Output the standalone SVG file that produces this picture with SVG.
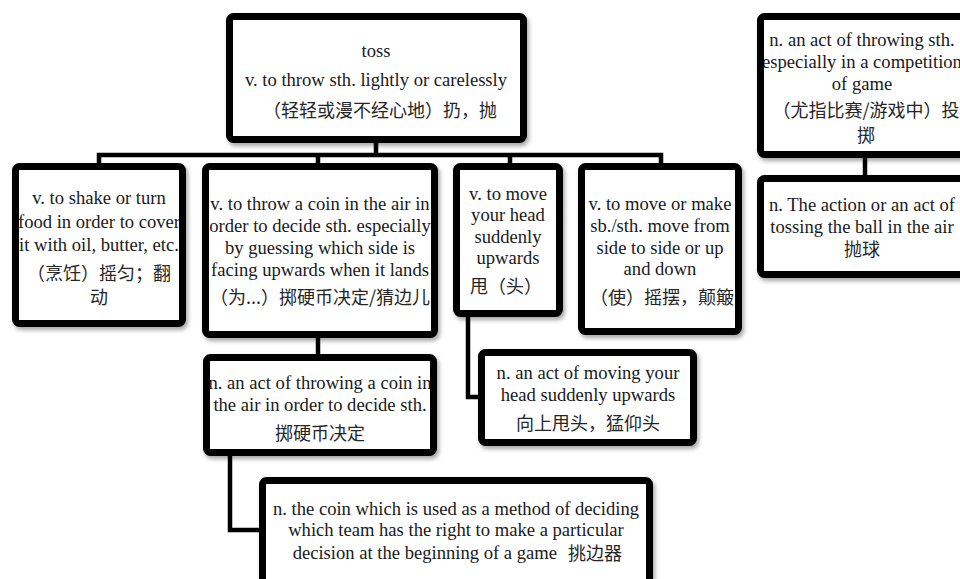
<svg xmlns="http://www.w3.org/2000/svg" width="960" height="579" viewBox="0 0 960 579">
<style>
.box{fill:#fff;stroke:#000;stroke-width:7;filter:url(#sh)}
.t{font-family:"Liberation Serif","Times New Roman",serif;font-size:18.6px;fill:#1a1a1a;text-anchor:middle}
.c{font-family:"Noto Sans CJK SC","Noto Sans",sans-serif;font-size:18px;fill:#262626;text-anchor:middle}
.conn{fill:none;stroke:#000;stroke-width:4.5}
</style>
<defs>
<filter id="sh" x="-10%" y="-10%" width="130%" height="130%">
<feDropShadow dx="2" dy="3" stdDeviation="2" flood-color="#000" flood-opacity="0.35"/>
</filter>
<clipPath id="c1"><rect x="19" y="170" width="160" height="150"/></clipPath>
<clipPath id="c2"><rect x="209" y="170" width="222" height="161"/></clipPath>
<clipPath id="c5"><rect x="210" y="361" width="220" height="88"/></clipPath>
<clipPath id="crt"><rect x="764" y="20" width="202" height="131"/></clipPath>
<clipPath id="c4"><rect x="585" y="170" width="150" height="158"/></clipPath>
</defs>
<g id="connectors">
<path class="conn" d="M376 143 V155"/>
<path class="conn" d="M99 165 V155 H661 V165"/>
<path class="conn" d="M318 155 V165"/>
<path class="conn" d="M510 155 V165"/>
<path class="conn" d="M318 336 V356"/>
<path class="conn" d="M468 315 V397 H481"/>
<path class="conn" d="M230 454 V530 H262"/>
<path class="conn" d="M865 156 V177"/>
</g>
<g id="n-toss">
<rect class="box" x="229.5" y="16.5" width="294" height="123" rx="4"/>
<text class="t" x="376" y="57">toss</text>
<text class="t" x="376" y="86">v. to throw sth. lightly or carelessly</text>
<text class="c" x="380" y="117">（轻轻或漫不经心地）扔，抛</text>
</g>
<g id="n-shake">
<rect class="box" x="15.5" y="166.5" width="167" height="157" rx="4"/>
<g clip-path="url(#c1)">
<text class="t" x="99" y="204">v. to shake or turn</text>
<text class="t" x="99" y="228">food in order to cover</text>
<text class="t" x="99" y="251">it with oil, butter, etc.</text>
<text class="c" x="99" y="280">（烹饪）摇匀；翻</text>
<text class="c" x="99" y="304">动</text>
</g>
</g>
<g id="n-coin-v">
<rect class="box" x="205.5" y="166.5" width="229" height="168" rx="4"/>
<g clip-path="url(#c2)">
<text class="t" x="320" y="210">v. to throw a coin in the air in</text>
<text class="t" x="320" y="232">order to decide sth. especially</text>
<text class="t" x="320" y="254">by guessing which side is</text>
<text class="t" x="320" y="276">facing upwards when it lands</text>
<text class="c" x="320" y="304">（为...）掷硬币决定/猜边儿</text>
</g>
</g>
<g id="n-head-v">
<rect class="box" x="456.5" y="166.5" width="103" height="147" rx="4"/>
<text class="t" x="508" y="200">v. to move</text>
<text class="t" x="508" y="221">your head</text>
<text class="t" x="508" y="243">suddenly</text>
<text class="t" x="508" y="264">upwards</text>
<text class="c" x="506" y="293">甩（头）</text>
</g>
<g id="n-move-v">
<rect class="box" x="581.5" y="166.5" width="157" height="165" rx="4"/>
<g clip-path="url(#c4)">
<text class="t" x="660" y="210">v. to move or make</text>
<text class="t" x="660" y="232">sb./sth. move from</text>
<text class="t" x="660" y="254">side to side or up</text>
<text class="t" x="660" y="275">and down</text>
<text class="c" x="662" y="304">（使）摇摆，颠簸</text>
</g>
</g>
<g id="n-throw-n">
<rect class="box" x="760.5" y="16.5" width="209" height="138" rx="4"/>
<g clip-path="url(#crt)">
<text class="t" x="862" y="46">n. an act of throwing sth.</text>
<text class="t" x="862" y="68">especially in a competition</text>
<text class="t" x="862" y="90">of game</text>
<text class="c" x="866" y="117">（尤指比赛/游戏中）投</text>
<text class="c" x="866" y="142">掷</text>
</g>
</g>
<g id="n-ball-n">
<rect class="box" x="760.5" y="178.5" width="209" height="96" rx="4"/>
<text class="t" x="862" y="211">n. The action or an act of</text>
<text class="t" x="862" y="233">tossing the ball in the air</text>
<text class="c" x="862" y="256">抛球</text>
</g>
<g id="n-coin-n">
<rect class="box" x="206.5" y="357.5" width="227" height="95" rx="4"/>
<g clip-path="url(#c5)">
<text class="t" x="320" y="389">n. an act of throwing a coin in</text>
<text class="t" x="320" y="411">the air in order to decide sth.</text>
<text class="c" x="320" y="440">掷硬币决定</text>
</g>
</g>
<g id="n-head-n">
<rect class="box" x="481.5" y="352.5" width="212" height="90" rx="4"/>
<text class="t" x="588" y="379">n. an act of moving your</text>
<text class="t" x="588" y="401">head suddenly upwards</text>
<text class="c" x="588" y="430">向上甩头，猛仰头</text>
</g>
<g id="n-coin-device">
<rect class="box" x="262.5" y="480.5" width="387" height="120" rx="4"/>
<text class="t" x="456" y="515">n. the coin which is used as a method of deciding</text>
<text class="t" x="456" y="536">which team has the right to make a particular</text>
<text class="t" x="557" y="559" style="text-anchor:end">decision at the beginning of a game</text>
<text class="c" x="568" y="560" style="text-anchor:start">挑边器</text>
</g>
</svg>
